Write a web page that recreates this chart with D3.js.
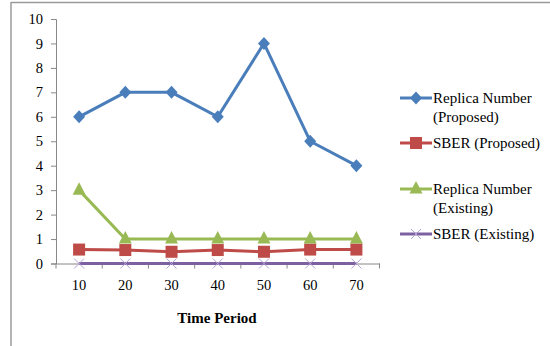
<!DOCTYPE html>
<html>
<head>
<meta charset="utf-8">
<script src="https://cdn.jsdelivr.net/npm/d3@7"></script>
<style>
  html, body { margin: 0; padding: 0; background: #fff; }
  svg { display: block; }
</style>
</head>
<body>
<svg id="chart" width="550" height="346"></svg>
<script>
// Time periods along the x axis
const periods = ["10", "20", "30", "40", "50", "60", "70"];
// Y tick values
const yTicks = [0, 1, 2, 3, 4, 5, 6, 7, 8, 9, 10];

// Series values
const replicaProposed = [6, 7, 7, 6, 9, 5, 4];
const sberProposed = [0.57, 0.55, 0.48, 0.55, 0.48, 0.57, 0.57];
const replicaExisting = [3, 1, 1, 1, 1, 1, 1];
const sberExisting = [0, 0, 0, 0, 0, 0, 0];

const seriesNames = [["Replica Number", "(Proposed)"], ["SBER (Proposed)"], ["Replica Number", "(Existing)"], ["SBER (Existing)"]];
const seriesColors = ["#4a7ebb", "#be4b48", "#98b954", "#7d60a0"];
const seriesSymbols = ["diamond", "square", "triangle", "cross"];
const seriesValues = [replicaProposed, sberProposed, replicaExisting, sberExisting];

const SERIF = "'Liberation Serif', 'Times New Roman', 'DejaVu Serif', serif";

const svg = d3.select("#chart").style("font-family", SERIF);

// Outer frame
svg.append("line").attr("x1", 11).attr("x2", 550).attr("y1", 2.5).attr("y2", 2.5)
  .attr("stroke", "#9a9a9a").attr("stroke-width", 1.5);
svg.append("line").attr("x1", 11).attr("x2", 11).attr("y1", 2).attr("y2", 346)
  .attr("stroke", "#9a9a9a").attr("stroke-width", 1.5);

const plot = { left: 56, right: 379.5, top: 19, bottom: 263.5 };

const x = d3.scaleBand().domain(periods).range([plot.left, plot.right]);
const y = d3.scaleLinear().domain([0, 10]).range([plot.bottom, plot.top]);

// Y axis
const yAxis = svg.append("g").attr("transform", `translate(${plot.left},0)`)
  .call(d3.axisLeft(y).tickValues(yTicks).tickSize(5).tickPadding(8).tickFormat(d3.format("d")));
yAxis.attr("font-family", null);
yAxis.select(".domain").attr("stroke", "#888");
yAxis.selectAll(".tick line").attr("stroke", "#888");
yAxis.selectAll(".tick text").attr("fill", "#000")
  .style("font-family", SERIF).style("font-size", "14.5px");

// X axis with tick marks at category boundaries
const xAxis = svg.append("g").attr("transform", `translate(0,${plot.bottom})`)
  .call(d3.axisBottom(x).tickSize(0).tickPadding(16));
xAxis.attr("font-family", null);
xAxis.select(".domain").attr("stroke", "#888");
xAxis.selectAll(".tick text").attr("fill", "#000")
  .style("font-family", SERIF).style("font-size", "14.5px");
const bounds = periods.map(p => x(p)).concat([x(periods[periods.length - 1]) + x.bandwidth()]);
xAxis.selectAll(".bound").data(bounds).enter().append("line")
  .attr("x1", d => d).attr("x2", d => d).attr("y1", 0).attr("y2", 5)
  .attr("stroke", "#888");

// X axis title
svg.append("text").attr("x", 217).attr("y", 323).attr("text-anchor", "middle")
  .style("font-family", SERIF).style("font-size", "15px").style("font-weight", "bold")
  .text("Time Period");

const cx = p => x(p) + x.bandwidth() / 2;
const line = d3.line().x((d, i) => cx(periods[i])).y(d => y(d));

function drawMarker(g, type, color, px, py) {
  if (type === "diamond") {
    g.append("path").attr("d", `M${px},${py - 6.5}L${px + 6},${py}L${px},${py + 6.5}L${px - 6},${py}Z`)
      .attr("fill", color);
  } else if (type === "square") {
    g.append("rect").attr("x", px - 6).attr("y", py - 6).attr("width", 12).attr("height", 12)
      .attr("fill", color);
  } else if (type === "triangle") {
    g.append("path").attr("d", `M${px},${py - 8}L${px + 6.5},${py + 4.5}L${px - 6.5},${py + 4.5}Z`)
      .attr("fill", color);
  } else if (type === "cross") {
    g.append("path").attr("d", `M${px - 5},${py - 5}L${px + 5},${py + 5}M${px - 5},${py + 5}L${px + 5},${py - 5}`)
      .attr("stroke", "#b3a2d4").attr("stroke-width", 1).attr("fill", "none");
  }
}

// Series lines and markers
seriesValues.forEach((vals, k) => {
  const g = svg.append("g");
  g.append("path").datum(vals).attr("d", line).attr("fill", "none")
    .attr("stroke", seriesColors[k]).attr("stroke-width", 3);
  vals.forEach((v, i) => drawMarker(g, seriesSymbols[k], seriesColors[k], cx(periods[i]), y(v)));
});

// Legend
const legendY = [98, 143, 189, 234];
seriesNames.forEach((lines, k) => {
  const g = svg.append("g");
  const ly = legendY[k];
  g.append("line").attr("x1", 400).attr("x2", 432).attr("y1", ly).attr("y2", ly)
    .attr("stroke", seriesColors[k]).attr("stroke-width", 3);
  drawMarker(g, seriesSymbols[k], seriesColors[k], 416, ly);
  const t = g.append("text").attr("x", 433).attr("fill", "#000")
    .style("font-family", SERIF).style("font-size", "15px");
  lines.forEach((s, j) => {
    t.append("tspan").attr("x", 433)
      .attr("y", ly + 5 + j * 19)
      .text(s);
  });
});
</script>
</body>
</html>
